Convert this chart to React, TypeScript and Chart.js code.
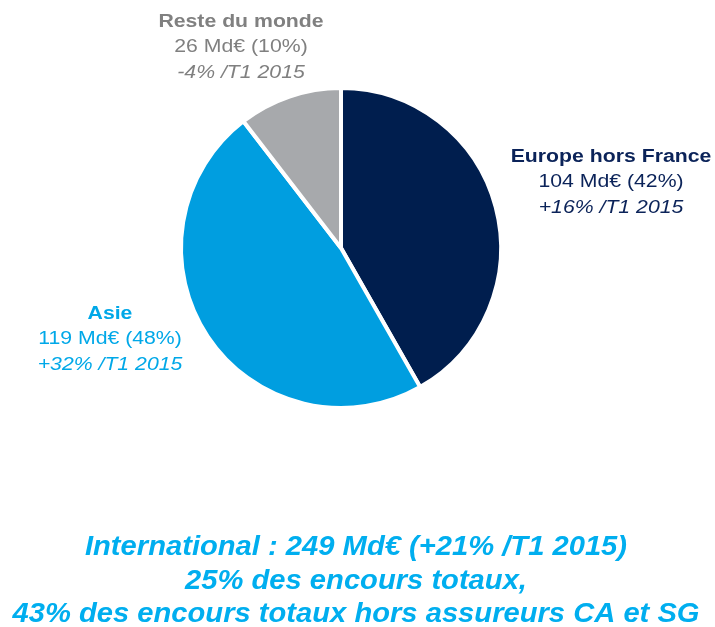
import React, { useEffect, useRef } from "react";
import { Chart, registerables } from "chart.js";

Chart.register(...registerables);

const regions = ["Europe hors France", "Asie", "Reste du monde"];
const amounts = [104, 119, 26];
const shares = ["42%", "48%", "10%"];
const growth = ["+16% /T1 2015", "+32% /T1 2015", "-4% /T1 2015"];
const sliceColors = ["#001E4E", "#009EE0", "#A7A9AC"];
const textColors = ["#0B2359", "#00A8E8", "#808080"];
const footerLines = [
  "International : 249 Md€ (+21% /T1 2015)",
  "25% des encours totaux,",
  "43% des encours totaux hors assureurs CA et SG",
];

const labelPlacement = [
  { x: 611, y: 157 },
  { x: 110, y: 314 },
  { x: 241, y: 22 },
];

const FONT = '"Liberation Sans", Arial, sans-serif';

function stretchedText(ctx: CanvasRenderingContext2D, text: string, x: number, y: number, sx: number) {
  ctx.save();
  ctx.translate(x, y);
  ctx.scale(sx, 1);
  ctx.fillText(text, 0, 0);
  ctx.restore();
}

const labelsPlugin = {
  id: "sliceLabels",
  afterDraw(chart: any) {
    const ctx = chart.ctx as CanvasRenderingContext2D;
    ctx.save();
    ctx.textAlign = "center";
    ctx.textBaseline = "middle";
    regions.forEach((name, i) => {
      const p = labelPlacement[i];
      ctx.fillStyle = textColors[i];
      ctx.font = `bold 18px ${FONT}`;
      stretchedText(ctx, name, p.x, p.y, 1.18);
      ctx.font = `18px ${FONT}`;
      stretchedText(ctx, `${amounts[i]} Md€ (${shares[i]})`, p.x, p.y + 25.5, 1.18);
      ctx.font = `italic 18px ${FONT}`;
      stretchedText(ctx, growth[i], p.x, p.y + 51, 1.18);
    });
    ctx.fillStyle = "#00AEEF";
    ctx.font = `italic bold 27px ${FONT}`;
    footerLines.forEach((line, i) => {
      stretchedText(ctx, line, 356, 548 + i * 33.5, 1.08);
    });
    ctx.restore();
  },
};

export default function App() {
  const ref = useRef<HTMLCanvasElement>(null);
  useEffect(() => {
    if (!ref.current) return;
    const chart = new Chart(ref.current, {
      type: "pie",
      data: {
        labels: regions,
        datasets: [
          {
            data: amounts,
            backgroundColor: sliceColors,
            borderColor: "#FFFFFF",
            borderWidth: 4,
          },
        ],
      },
      options: {
        responsive: false,
        animation: false,
        layout: { padding: { left: 179, right: 212, top: 86, bottom: 217 } },
        plugins: {
          legend: { display: false },
          tooltip: { enabled: false },
        },
      },
      plugins: [labelsPlugin],
    });
    return () => chart.destroy();
  }, []);
  return (
    <div style={{ position: "absolute", left: 0, top: 0, width: 715, height: 627, background: "#fff" }}>
      <canvas ref={ref} width={715} height={627} style={{ width: 715, height: 627 }} />
    </div>
  );
}
